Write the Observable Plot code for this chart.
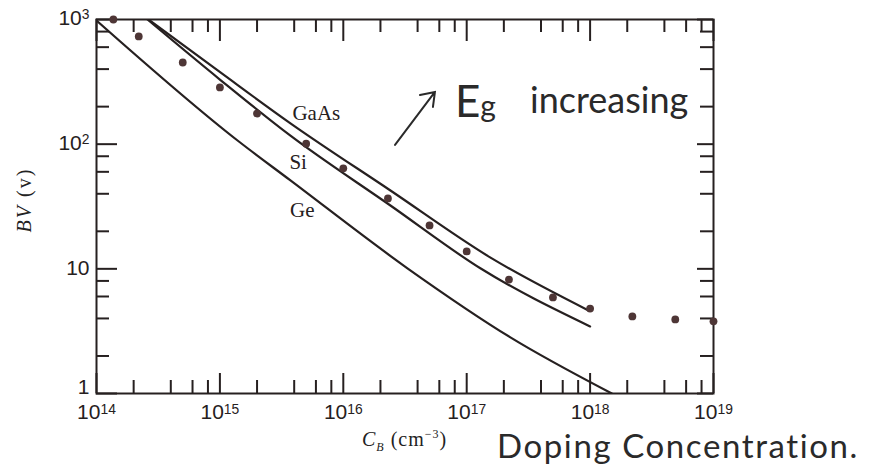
<!DOCTYPE html>
<html><head><meta charset="utf-8">
<script src="https://cdn.jsdelivr.net/npm/d3@7"></script>
<script src="https://cdn.jsdelivr.net/npm/@observablehq/plot@0.6"></script>
<style>
body{margin:0;background:#fff;}
#wrap{position:relative;width:871px;height:468px;overflow:hidden;background:#fff;}
.ann{position:absolute;white-space:nowrap;color:#222;line-height:1;}
.serif{font-family:"Liberation Serif","DejaVu Serif",serif;}
.hand{font-family:"Lato","Open Sans",sans-serif;font-weight:400;color:#2a2a2a;}
</style></head><body><div id="wrap"></div>
<script>
// ---- data ----
const gaasC  = [2.64e14, 1.01e15, 3.73e15, 2.41e16, 1.56e17, 9.7e17];
const gaasBV = [1000, 376, 147, 42.5, 12.3, 4.64];
const siC    = [2.59e14, 1.0e15, 3.73e15, 2.41e16, 1.29e17, 1.0e18];
const siBV   = [1000, 330, 117, 32.2, 10.1, 3.45];
const geC    = [1e14, 1.39e15, 3.73e15, 3.31e16, 2.26e17, 1.5e18];
const geBV   = [982, 107, 51.2, 10.1, 2.82, 1.0];
const dotC   = [1.37e14, 2.2e14, 5e14, 1e15, 2e15, 5e15, 1e16, 2.3e16, 5e16, 1e17, 2.2e17, 5e17, 1e18, 2.2e18, 4.9e18, 1e19];
const dotBV  = [1000, 731, 452, 285, 176, 101, 64, 36.7, 22.3, 13.8, 8.2, 5.9, 4.8, 4.15, 3.93, 3.79];
const xMajor = [1e14, 1e15, 1e16, 1e17, 1e18, 1e19];
const minorMult = [2, 4, 6, 8];
const yMajor = [1, 10, 100, 1000];
const curveNames = ["GaAs", "Si", "Ge"];
const labelC  = [3.87e15, 3.66e15, 3.7e15];
const labelBV = [176, 71.3, 29.4];

// ---- build tables ----
const toRows = (name, cs, bvs) => cs.map((c, i) => ({name, c, bv: bvs[i]}));
const curves = [
  ...toRows("GaAs", gaasC, gaasBV),
  ...toRows("Si", siC, siBV),
  ...toRows("Ge", geC, geBV)
];
const dots = dotC.map((c, i) => ({c, bv: dotBV[i]}));
const labels = curveNames.map((n, i) => ({n, c: labelC[i], bv: labelBV[i]}));
const xMinor = xMajor.slice(0, -1).flatMap(d => minorMult.map(m => m * d));
const yMinor = yMajor.slice(0, -1).flatMap(d => minorMult.map(m => m * d));

const fmtX = d => "10^" + Math.round(Math.log10(d));
const fmtY = d => { const e = Math.round(Math.log10(d)); return e === 0 ? "1" : e === 1 ? "10" : "10^" + e; };

const W = 871, H = 468, ML = 96, MR = 158, MT = 19, MB = 75;
const PW = W - ML - MR, PH = H - MT - MB;
const ink = "#262020";

const plot = Plot.plot({
  width: W, height: H,
  marginLeft: ML, marginRight: MR, marginTop: MT, marginBottom: MB,
  x: {type: "log", domain: [1e14, 1e19]},
  y: {type: "log", domain: [1, 1000]},
  style: {fontFamily: "'Liberation Sans', Arial, sans-serif", fontSize: "21px", color: ink, background: "#fff"},
  marks: [
    Plot.tickX(xMinor, {x: d => d, insetTop: PH - 13, stroke: ink, strokeWidth: 2}),
    Plot.tickX(xMinor, {x: d => d, insetBottom: PH - 13, stroke: ink, strokeWidth: 2}),
    Plot.tickX(xMajor, {x: d => d, insetTop: PH - 20, stroke: ink, strokeWidth: 2}),
    Plot.tickX(xMajor, {x: d => d, insetBottom: PH - 22, stroke: ink, strokeWidth: 2}),
    Plot.tickY(yMinor, {y: d => d, insetRight: PW - 13, stroke: ink, strokeWidth: 2}),
    Plot.tickY(yMinor, {y: d => d, insetLeft: PW - 13, stroke: ink, strokeWidth: 2}),
    Plot.tickY(yMajor, {y: d => d, insetRight: PW - 21, stroke: ink, strokeWidth: 2}),
    Plot.tickY(yMajor, {y: d => d, insetLeft: PW - 16, stroke: ink, strokeWidth: 2}),
    Plot.frame({stroke: ink, strokeWidth: 2}),
    Plot.axisX({ticks: xMajor, tickSize: 0, tickPadding: 11, tickFormat: fmtX, label: null, fill: ink}),
    Plot.axisY({ticks: yMajor.slice(1), tickSize: 0, tickPadding: 7, tickFormat: fmtY, label: null, fill: ink, dy: -1}),
    Plot.axisY({ticks: yMajor.slice(0, 1), tickSize: 0, tickPadding: 7, tickFormat: fmtY, label: null, fill: ink, dy: -6}),
    Plot.line(curves, {x: "c", y: "bv", z: "name", curve: "monotone-x", stroke: ink, strokeWidth: 2.2, clip: true}),
    Plot.dot(dots, {x: "c", y: "bv", r: 3.9, fill: "#4e3636", stroke: "none"}),
    Plot.text(labels, {x: "c", y: "bv", text: "n", textAnchor: "start", fontFamily: "'Liberation Serif', serif", fontSize: 21, fill: ink})
  ]
});
const wrap = document.getElementById("wrap");
wrap.appendChild(plot);

// turn "10^e" tick labels into 10 with a raised exponent
d3.select(plot).selectAll("text").each(function() {
  const t = this.textContent;
  if (t.includes("^")) {
    const [base, exp] = t.split("^");
    const el = d3.select(this);
    el.text(base);
    el.append("tspan").attr("dy", "-0.42em").attr("font-size", "0.66em").text(exp);
  }
});

const sx = plot.scale("x"), sy = plot.scale("y");
const px = v => sx.apply(v), py = v => sy.apply(v);
function ann(html, left, top, cls, extra) {
  const d = document.createElement("div");
  d.className = "ann " + cls;
  d.innerHTML = html;
  d.style.left = left + "px"; d.style.top = top + "px";
  Object.assign(d.style, extra || {});
  wrap.appendChild(d);
  return d;
}
// handwritten arrow
const svg = d3.select(plot);
const ax1 = px(2.65e16), ay1 = py(97.7), ax2 = px(5.58e16), ay2 = py(260);
svg.append("path").attr("d", `M${ax1},${ay1}L${ax2},${ay2}M${ax2-15},${ay2+3}L${ax2},${ay2}L${ax2-2},${ay2+15}`)
  .attr("fill", "none").attr("stroke", "#2a2a2a").attr("stroke-width", 2).attr("stroke-linecap", "round");
ann("E<span style='font-size:30px'>g</span>", px(8.1e16), py(212) - 25, "hand", {fontSize: "44px"});
ann("increasing", px(3.29e17), py(197) - 26, "hand", {fontSize: "36px"});
ann("<i>BV</i> (v)", -8, 190, "serif", {fontSize: "20px", letterSpacing: "2px", transform: "rotate(-90deg)", transformOrigin: "center"});
ann("<i>C<sub style='font-size:12px'>B</sub></i> (cm<sup style='font-size:12px'>−3</sup>)", 362, 428, "serif", {fontSize: "20px", letterSpacing: "1px"});
ann("Doping Concentration.", 497, 429, "hand", {fontSize: "33px", letterSpacing: "1.6px"});
</script></body></html>
